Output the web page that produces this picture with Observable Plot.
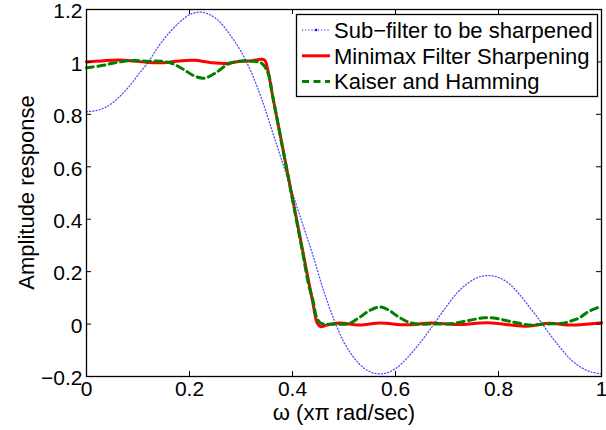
<!DOCTYPE html>
<html><head><meta charset="utf-8">
<script src="https://cdn.jsdelivr.net/npm/d3@7"></script>
<script src="https://cdn.jsdelivr.net/npm/@observablehq/plot@0.6"></script>
<style>body{margin:0;background:#fff}#chart{width:606px;height:430px}</style>
</head><body><div id="chart"></div>
<script>
const seriesNames = ["Sub\u2212filter to be sharpened", "Minimax Filter Sharpening", "Kaiser and Hamming"];
const xTicks = [0, 0.2, 0.4, 0.6, 0.8, 1];
const yTicks = [-0.2, 0, 0.2, 0.4, 0.6, 0.8, 1, 1.2];
const xLabel = "\u03c9 (x\u03c0 rad/sec)";
const yLabel = "Amplitude response";

const subOmega = [0,0.02,0.04,0.06,0.08,0.10,0.12,0.14,0.16,0.18,0.20,0.22,0.24,0.26,0.28,0.30,0.32,0.34,0.36,0.38,0.40,0.42,0.44,0.46,0.48,0.50,0.52,0.54,0.56,0.58,0.60,0.62,0.64,0.66,0.68,0.70,0.72,0.74,0.76,0.78,0.80,0.82,0.84,0.86,0.88,0.90,0.92,0.94,0.96,0.98,1.00];
const subValues = [0.81,0.815,0.83,0.86,0.90,0.95,1.00,1.06,1.11,1.15,1.18,1.19,1.18,1.15,1.10,1.04,0.96,0.86,0.74,0.62,0.50,0.38,0.26,0.13,0.02,-0.07,-0.13,-0.17,-0.188,-0.188,-0.17,-0.135,-0.09,-0.04,0.015,0.07,0.12,0.155,0.178,0.185,0.178,0.155,0.115,0.065,0.015,-0.04,-0.09,-0.135,-0.165,-0.183,-0.19];

const minimaxOmega = [0,0.03,0.06,0.09,0.12,0.15,0.18,0.21,0.24,0.27,0.30,0.32,0.345,0.352,0.36,0.38,0.40,0.42,0.44,0.448,0.455,0.465,0.49,0.53,0.57,0.62,0.67,0.72,0.78,0.85,0.90,0.94,1.00];
const minimaxValues = [1.000,1.004,1.007,1.004,0.998,0.997,1.004,1.006,0.998,0.994,1.003,1.004,1.008,0.97,0.884,0.682,0.48,0.278,0.076,0.004,-0.01,-0.005,0.004,-0.004,0.004,-0.003,0.004,-0.002,0.005,-0.008,0.003,-0.004,0.005];

const kaiserOmega = [0,0.009,0.032,0.051,0.074,0.094,0.12,0.142,0.165,0.188,0.207,0.228,0.252,0.275,0.297,0.32,0.34,0.353,0.362,0.38,0.40,0.42,0.431,0.44,0.447,0.455,0.463,0.486,0.509,0.531,0.551,0.570,0.587,0.603,0.623,0.642,0.665,0.684,0.706,0.730,0.753,0.772,0.795,0.818,0.840,0.863,0.883,0.905,0.925,0.941,0.957,0.974,0.993,1.0];
const kaiserValues = [0.978,0.980,0.987,0.995,1.003,1.005,1.003,1.003,0.995,0.972,0.949,0.938,0.960,0.992,1.003,1.003,0.995,0.954,0.864,0.68,0.475,0.27,0.153,0.088,0.024,0.003,0.0,0.0,0.001,0.027,0.053,0.065,0.053,0.031,0.009,0.0,0.0,0.0,0.001,0.009,0.018,0.024,0.022,0.012,0.003,-0.004,-0.001,0.001,0.003,0.012,0.024,0.047,0.063,0.068];

const rows = (xs, vs) => xs.map((w, i) => ({w, v: vs[i]}));
const font = '"Liberation Sans", Arial, Helvetica, sans-serif';
const fmt = d3.format("~g");
const H = 430, W = 606, mT = 9, mB = 54, mL = 86, mR = 5;
const fh = H - mT - mB, fw = W - mL - mR, tl = 5;

const plot = Plot.plot({
  width: W, height: H, marginTop: mT, marginBottom: mB, marginLeft: mL, marginRight: mR,
  style: {fontFamily: font, background: "white", color: "black", overflow: "visible"},
  x: {domain: [0, 1]},
  y: {domain: [-0.2, 1.2]},
  marks: [
    Plot.line(rows(subOmega, subValues), {x: "w", y: "v", stroke: "#0000ff", strokeWidth: 1.3, strokeDasharray: "1,2.2", strokeOpacity: 0.7, curve: "catmull-rom"}),
    Plot.line(rows(minimaxOmega, minimaxValues), {x: "w", y: "v", stroke: "#ff0000", strokeWidth: 3, curve: "catmull-rom"}),
    Plot.line(rows(kaiserOmega, kaiserValues), {x: "w", y: "v", stroke: "#008000", strokeWidth: 3, strokeDasharray: "7,4.5", curve: "catmull-rom"}),
    Plot.tickX(xTicks, {x: d => d, insetTop: fh - tl, stroke: "black", strokeWidth: 1}),
    Plot.tickX(xTicks, {x: d => d, insetBottom: fh - tl, stroke: "black", strokeWidth: 1}),
    Plot.tickY(yTicks, {y: d => d, insetRight: fw - tl, stroke: "black", strokeWidth: 1}),
    Plot.tickY(yTicks, {y: d => d, insetLeft: fw - tl, stroke: "black", strokeWidth: 1}),
    Plot.frame({stroke: "black", strokeWidth: 1.3}),
    Plot.axisX(xTicks, {anchor: "bottom", tickSize: 0, tickPadding: 5, fontSize: 21, tickFormat: fmt, label: null}),
    Plot.axisY(yTicks, {anchor: "left", tickSize: 0, tickPadding: 4, dy: 2, fontSize: 21, tickFormat: fmt, label: null}),
    Plot.text([xLabel], {frameAnchor: "bottom", dy: 36, fontSize: 22, lineAnchor: "middle", fill: "black"})
  ]
});

const svg = d3.select(plot);
// y axis title
svg.append("text")
  .attr("transform", `translate(${mL - 60},${mT + fh / 2}) rotate(-90)`)
  .attr("text-anchor", "middle").attr("dy", "0.35em")
  .attr("font-family", font).attr("font-size", 22).attr("fill", "black")
  .text(yLabel);

// legend inside the plot (top right)
const g = svg.append("g").attr("font-family", font).attr("text-anchor", "start");
const lx = 296, ly = 14, lw = 301, lh = 82;
g.append("rect").attr("x", lx + 0.5).attr("y", ly + 0.5).attr("width", lw).attr("height", lh)
  .attr("fill", "white").attr("stroke", "black").attr("stroke-width", 1.3);
const legendStyles = [
  {stroke: "#0000ff", width: 1.3, dash: "1,2.2", opacity: 0.7},
  {stroke: "#ff0000", width: 3, dash: null, opacity: 1},
  {stroke: "#008000", width: 3, dash: "7,4.5", opacity: 1}
];
seriesNames.forEach((name, i) => {
  const y = ly + 16 + i * 25.8;
  const ln = g.append("line").attr("x1", lx + 6).attr("x2", lx + 34).attr("y1", y).attr("y2", y)
    .attr("stroke", legendStyles[i].stroke).attr("stroke-width", legendStyles[i].width)
    .attr("stroke-opacity", legendStyles[i].opacity);
  if (legendStyles[i].dash) ln.attr("stroke-dasharray", legendStyles[i].dash);
  if (i === 0) g.append("circle").attr("cx", lx + 20).attr("cy", y).attr("r", 1.3).attr("fill", "#0000ff");
  g.append("text").attr("x", lx + 38).attr("y", y).attr("dy", "0.35em").attr("font-size", 22)
    .attr("text-anchor", "start").attr("fill", "black").text(name);
});

document.getElementById("chart").appendChild(plot);
</script>
</body></html>
